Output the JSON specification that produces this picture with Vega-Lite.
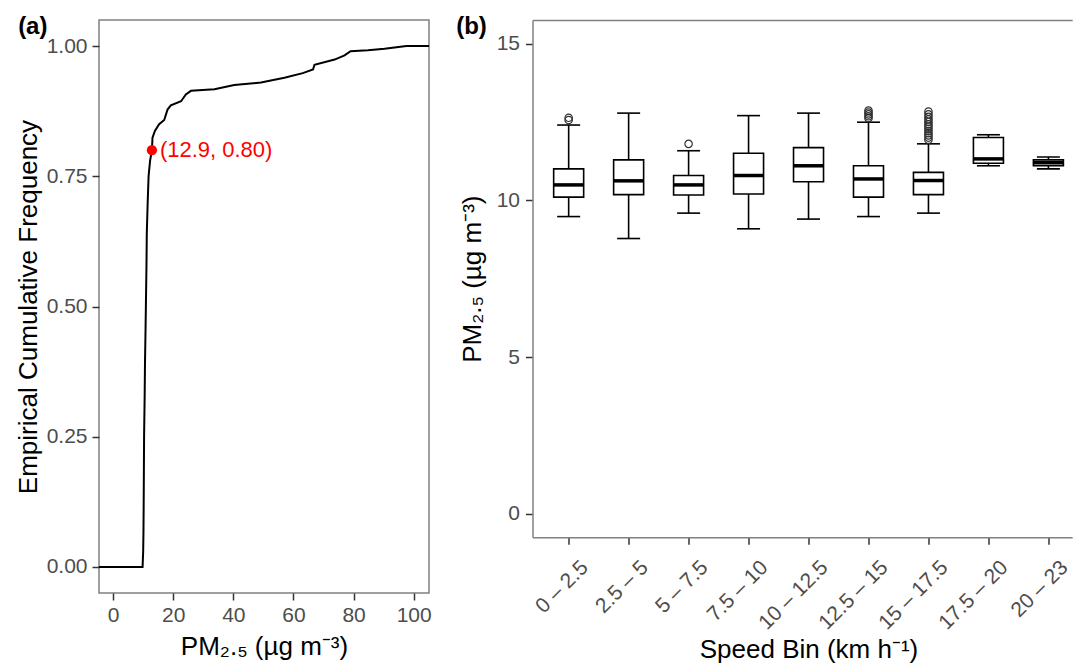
{
  "$schema": "https://vega.github.io/schema/vega-lite/v6.json",
  "background": "white",
  "padding": {"left": 14, "top": 14, "right": 0, "bottom": 0},
  "spacing": 23.5,
  "config": {
    "font": "Liberation Sans",
    "axis": {
      "labelFont": "Liberation Sans", "labelFontSize": 21, "labelColor": "#4d4d4d",
      "titleFont": "Liberation Sans", "titleFontSize": 26, "titleFontWeight": "normal", "titleColor": "black",
      "tickColor": "#333333", "tickWidth": 1.5, "tickSize": 7, "grid": false,
      "domainColor": "#808080", "domainWidth": 1.5, "labelFlush": false, "labelOverlap": false
    },
    "title": {"font": "Liberation Sans", "fontSize": 24, "fontWeight": "bold", "color": "black"}
  },
  "hconcat": [
    {
      "title": {"text": "(a)", "anchor": "start", "frame": "bounds", "offset": 0, "dy": 19, "dx": 3},
      "width": 330,
      "height": 573,
      "view": {"stroke": "#808080", "strokeWidth": 1.5},
      "layer": [
        {
          "data": {"values": [
            {"i": 0, "pm": -10, "F": 0},
            {"i": 1, "pm": 9.8, "F": 0},
            {"i": 2, "pm": 10.0, "F": 0.03},
            {"i": 3, "pm": 10.1, "F": 0.07},
            {"i": 4, "pm": 10.2, "F": 0.15},
            {"i": 5, "pm": 10.3, "F": 0.25},
            {"i": 6, "pm": 10.5, "F": 0.33},
            {"i": 7, "pm": 10.6, "F": 0.39},
            {"i": 8, "pm": 10.8, "F": 0.46},
            {"i": 9, "pm": 10.9, "F": 0.5},
            {"i": 10, "pm": 11.1, "F": 0.58},
            {"i": 11, "pm": 11.2, "F": 0.64},
            {"i": 12, "pm": 11.5, "F": 0.70},
            {"i": 13, "pm": 11.8, "F": 0.75},
            {"i": 14, "pm": 12.3, "F": 0.78},
            {"i": 15, "pm": 12.9, "F": 0.80},
            {"i": 16, "pm": 13.1, "F": 0.824},
            {"i": 17, "pm": 13.9, "F": 0.837},
            {"i": 18, "pm": 15.3, "F": 0.850},
            {"i": 19, "pm": 17.0, "F": 0.858},
            {"i": 20, "pm": 18.1, "F": 0.878},
            {"i": 21, "pm": 19.2, "F": 0.886},
            {"i": 22, "pm": 22.6, "F": 0.894},
            {"i": 23, "pm": 24.2, "F": 0.907},
            {"i": 24, "pm": 25.9, "F": 0.914},
            {"i": 25, "pm": 33.7, "F": 0.917},
            {"i": 26, "pm": 40.3, "F": 0.925},
            {"i": 27, "pm": 49.2, "F": 0.930},
            {"i": 28, "pm": 57.0, "F": 0.939},
            {"i": 29, "pm": 63.1, "F": 0.948},
            {"i": 30, "pm": 66.5, "F": 0.955},
            {"i": 31, "pm": 67.0, "F": 0.964},
            {"i": 32, "pm": 73.7, "F": 0.974},
            {"i": 33, "pm": 77.0, "F": 0.982},
            {"i": 34, "pm": 79.0, "F": 0.990},
            {"i": 35, "pm": 84.8, "F": 0.992},
            {"i": 36, "pm": 90.3, "F": 0.995},
            {"i": 37, "pm": 97.6, "F": 1.0},
            {"i": 38, "pm": 120, "F": 1.0}
          ]},
          "mark": {"type": "line", "color": "black", "strokeWidth": 2, "clip": true},
          "encoding": {
            "x": {"field": "pm", "type": "quantitative", "scale": {"domain": [-4.7, 105.1], "nice": false, "zero": false},
                  "axis": {"values": [0, 20, 40, 60, 80, 100], "title": "PM₂.₅ (µg m⁻³)", "domain": false, "labelPadding": 4, "titlePadding": 8}},
            "y": {"field": "F", "type": "quantitative", "scale": {"domain": [-0.05, 1.05], "nice": false, "zero": false},
                  "axis": {"values": [0, 0.25, 0.5, 0.75, 1], "format": ".2f", "title": "Empirical Cumulative Frequency", "domain": false, "labelPadding": 5, "titlePadding": 5}},
            "order": {"field": "i", "type": "quantitative"}
          }
        },
        {
          "data": {"values": [{"pm": 12.9, "F": 0.8, "label": "(12.9, 0.80)"}]},
          "layer": [
            {
              "mark": {"type": "point", "filled": true, "color": "red", "size": 105, "opacity": 1},
              "encoding": {
                "x": {"field": "pm", "type": "quantitative"},
                "y": {"field": "F", "type": "quantitative"}
              }
            },
            {
              "mark": {"type": "text", "align": "left", "baseline": "middle", "dx": 8, "color": "red", "fontSize": 22, "font": "Liberation Sans"},
              "encoding": {
                "x": {"field": "pm", "type": "quantitative"},
                "y": {"field": "F", "type": "quantitative"},
                "text": {"field": "label"}
              }
            }
          ]
        }
      ]
    },
    {
      "title": {"text": "(b)", "anchor": "start", "frame": "bounds", "offset": 0, "dy": 19, "dx": -3},
      "width": 539.7,
      "height": 517.3,
      "view": {"stroke": null},
      "data": {"values": [
        {"bin": "0 – 2.5", "lo": 9.48, "q1": 10.1, "med": 10.49, "q3": 11.0, "hi": 12.4},
        {"bin": "2.5 – 5", "lo": 8.78, "q1": 10.18, "med": 10.62, "q3": 11.29, "hi": 12.78},
        {"bin": "5 – 7.5", "lo": 9.59, "q1": 10.17, "med": 10.49, "q3": 10.79, "hi": 11.58},
        {"bin": "7.5 – 10", "lo": 9.09, "q1": 10.2, "med": 10.79, "q3": 11.5, "hi": 12.7},
        {"bin": "10 – 12.5", "lo": 9.4, "q1": 10.59, "med": 11.1, "q3": 11.68, "hi": 12.78},
        {"bin": "12.5 – 15", "lo": 9.48, "q1": 10.1, "med": 10.68, "q3": 11.1, "hi": 12.49},
        {"bin": "15 – 17.5", "lo": 9.59, "q1": 10.18, "med": 10.63, "q3": 10.89, "hi": 11.8},
        {"bin": "17.5 – 20", "lo": 11.1, "q1": 11.18, "med": 11.32, "q3": 12.0, "hi": 12.09},
        {"bin": "20 – 23", "lo": 11.0, "q1": 11.1, "med": 11.2, "q3": 11.29, "hi": 11.38}
      ]},
      "resolve": {"axis": {"x": "independent"}},
      "layer": [
        {
          "mark": {"type": "rule", "color": "black", "strokeWidth": 1.6},
          "encoding": {
            "x": {"field": "bin", "type": "nominal", "sort": null,
                  "scale": {"type": "point", "domain": ["0 – 2.5", "2.5 – 5", "5 – 7.5", "7.5 – 10", "10 – 12.5", "12.5 – 15", "15 – 17.5", "17.5 – 20", "20 – 23"], "paddingOuter": 0.4975, "align": 0.603},
                  "axis": {"orient": "bottom", "title": "Speed Bin (km h⁻¹)", "labelAngle": -45, "labelAlign": "right", "labelBaseline": "top", "labelPadding": 12, "labelOffset": 8, "titlePadding": 3, "titleX": 276, "domain": true}},
            "y": {"field": "lo", "type": "quantitative", "title": "PM₂.₅ (µg m⁻³)",
                  "scale": {"domain": [-0.75, 15.75], "nice": false, "zero": false},
                  "axis": {"values": [0, 5, 10, 15], "domain": true, "labelPadding": 6, "titlePadding": 11}},
            "y2": {"field": "hi"}
          }
        },
        {
          "mark": {"type": "bar", "fill": "white", "stroke": "black", "strokeWidth": 1.6, "size": 30},
          "encoding": {
            "x": {"field": "bin", "type": "nominal", "sort": null,
                  "axis": {"orient": "top", "labels": false, "ticks": false, "title": null, "domain": true}},
            "y": {"field": "q1", "type": "quantitative", "title": "PM₂.₅ (µg m⁻³)"},
            "y2": {"field": "q3"}
          }
        },
        {
          "mark": {"type": "tick", "color": "black", "orient": "horizontal", "size": 30, "thickness": 3.5, "opacity": 1},
          "encoding": {
            "x": {"field": "bin", "type": "nominal", "sort": null, "axis": null},
            "y": {"field": "med", "type": "quantitative", "title": "PM₂.₅ (µg m⁻³)"}
          }
        },
        {
          "mark": {"type": "tick", "color": "black", "orient": "horizontal", "size": 23, "thickness": 1.6, "opacity": 1},
          "encoding": {
            "x": {"field": "bin", "type": "nominal", "sort": null, "axis": null},
            "y": {"field": "lo", "type": "quantitative", "title": "PM₂.₅ (µg m⁻³)"}
          }
        },
        {
          "mark": {"type": "tick", "color": "black", "orient": "horizontal", "size": 23, "thickness": 1.6, "opacity": 1},
          "encoding": {
            "x": {"field": "bin", "type": "nominal", "sort": null, "axis": null},
            "y": {"field": "hi", "type": "quantitative", "title": "PM₂.₅ (µg m⁻³)"}
          }
        },
        {
          "data": {"values": [
            {"bin": "0 – 2.5", "v": 12.56}, {"bin": "0 – 2.5", "v": 12.63},
            {"bin": "5 – 7.5", "v": 11.8},
            {"bin": "12.5 – 15", "v": 12.62}, {"bin": "12.5 – 15", "v": 12.68}, {"bin": "12.5 – 15", "v": 12.74}, {"bin": "12.5 – 15", "v": 12.8}, {"bin": "12.5 – 15", "v": 12.86},
            {"bin": "15 – 17.5", "v": 11.93}, {"bin": "15 – 17.5", "v": 12.0}, {"bin": "15 – 17.5", "v": 12.07}, {"bin": "15 – 17.5", "v": 12.14}, {"bin": "15 – 17.5", "v": 12.21}, {"bin": "15 – 17.5", "v": 12.28}, {"bin": "15 – 17.5", "v": 12.35}, {"bin": "15 – 17.5", "v": 12.42}, {"bin": "15 – 17.5", "v": 12.5}, {"bin": "15 – 17.5", "v": 12.58}, {"bin": "15 – 17.5", "v": 12.66}, {"bin": "15 – 17.5", "v": 12.74}, {"bin": "15 – 17.5", "v": 12.83}
          ]},
          "mark": {"type": "point", "shape": "circle", "filled": false, "stroke": "#333333", "strokeWidth": 1.2, "size": 55, "opacity": 1},
          "encoding": {
            "x": {"field": "bin", "type": "nominal", "sort": null, "axis": null},
            "y": {"field": "v", "type": "quantitative", "title": "PM₂.₅ (µg m⁻³)"}
          }
        }
      ]
    }
  ]
}
